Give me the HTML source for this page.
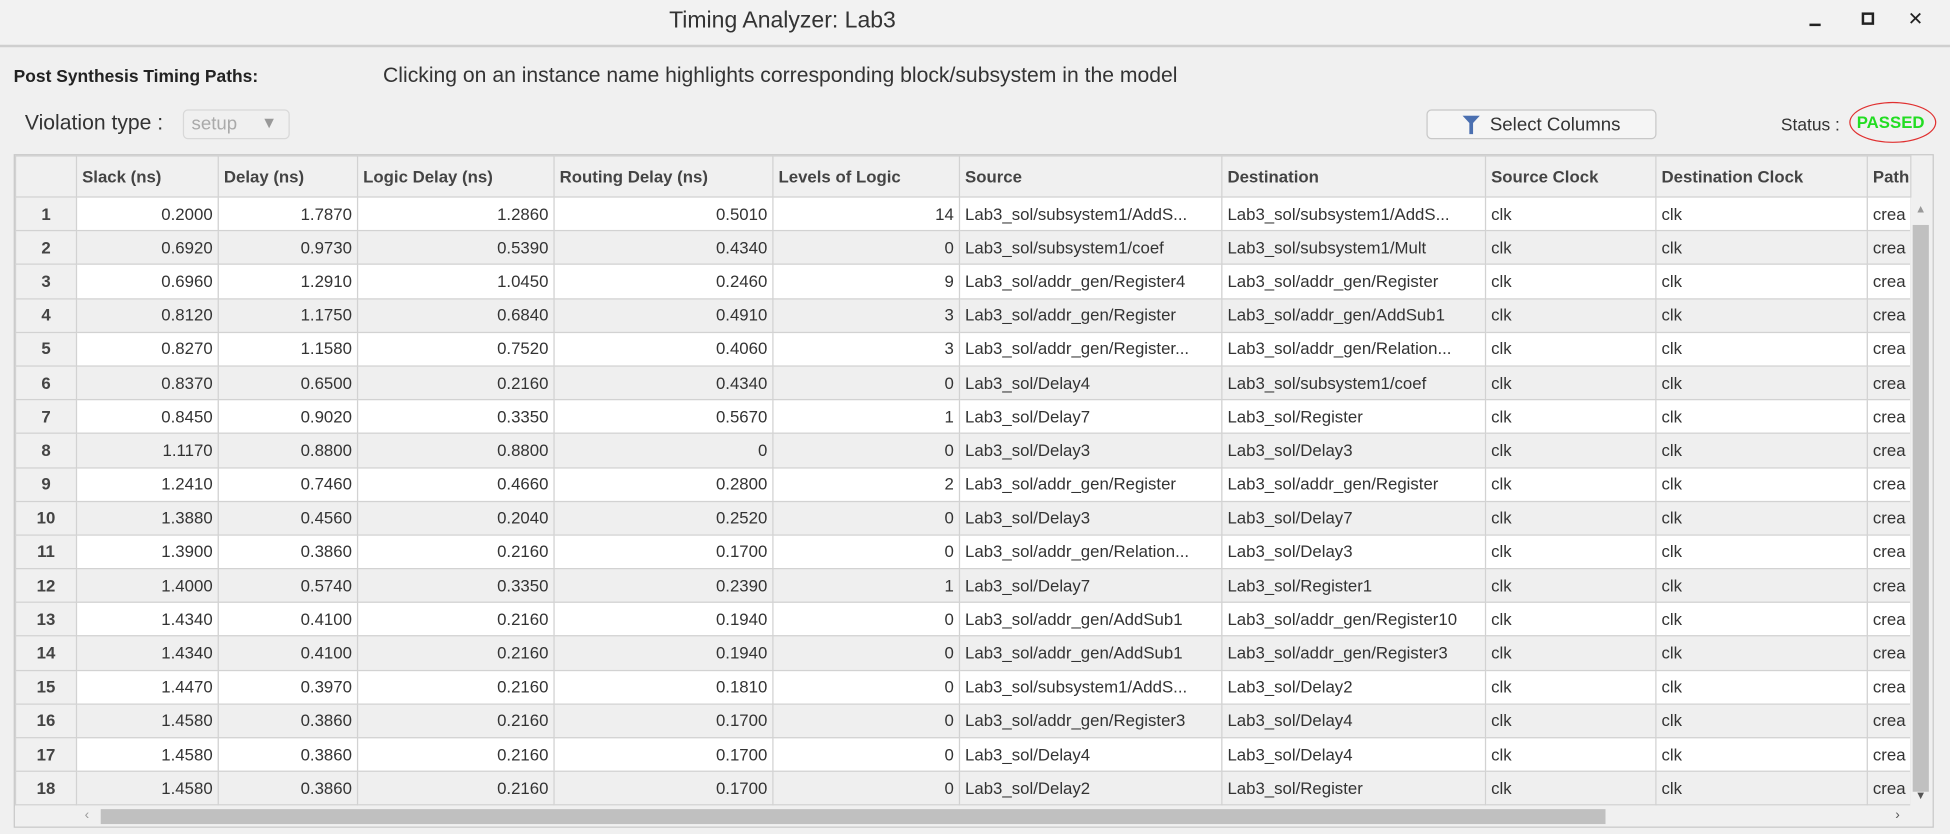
<!DOCTYPE html>
<html><head><meta charset="utf-8">
<style>
html,body{margin:0;padding:0;width:1950px;height:834px;overflow:hidden;background:#f0f0f0;}
#win{position:absolute;left:0;top:0;width:1568px;height:671px;transform-origin:0 0;transform:scale(1.24362,1.24292);background:#f0f0f0;font-family:"Liberation Sans",sans-serif;color:#333;}
.abs{position:absolute;white-space:nowrap;}
#titlebar{left:0;top:0;width:1568px;height:36px;background:#f2f2f2;border-bottom:2px solid #cfcfcf;}
table{border-collapse:collapse;table-layout:fixed;font-size:13.5px;}
td,th{border:1px solid #d2d2d2;height:26.2px;padding:0 4px;overflow:hidden;white-space:nowrap;}
th{background:#f0f0f0;text-align:left;font-weight:bold;color:#444;height:32px;}
td.n{text-align:right;}
td.idx{background:#f0f0f0;text-align:center;font-weight:bold;color:#444;}
tr.odd td{background:#fff;} tr.even td{background:#efefef;} tr td.idx{background:#f0f0f0;}
</style></head><body>
<div id="win">
  <div id="titlebar" class="abs">
    <div class="abs" style="left:538px;top:5px;font-size:18.5px;color:#333">Timing Analyzer: Lab3</div>
    <div class="abs" style="left:1455px;top:19px;width:9px;height:2px;background:#222"></div>
    <div class="abs" style="left:1497px;top:10px;width:6px;height:6px;border:2px solid #222"></div>
    <div class="abs" style="left:1534px;top:6px;font-size:15px;color:#222">✕</div>
  </div>
  <div class="abs" style="left:11px;top:53px;font-size:14px;font-weight:bold;color:#222">Post Synthesis Timing Paths:</div>
  <div class="abs" style="left:308px;top:51px;font-size:17px;color:#333">Clicking on an instance name highlights corresponding block/subsystem in the model</div>
  <div class="abs" style="left:20px;top:89px;font-size:17px;color:#333">Violation type :</div>
  <div class="abs" style="left:147px;top:88px;width:84px;height:22px;border:1px solid #d8d8d8;border-radius:4px;background:#f0f0f0">
    <span class="abs" style="left:6px;top:2px;font-size:15px;color:#aaa">setup</span>
    <span class="abs" style="left:62px;top:2px;font-size:13px;color:#999">▼</span>
  </div>
  <div class="abs" style="left:1147px;top:88px;width:183px;height:22px;border:1px solid #c8c8c8;border-radius:4px;background:#f5f5f5">
    <svg class="abs" style="left:28px;top:4px" width="14" height="15"><path d="M0 0H14L8.5 6V15H5.5V6Z" fill="#4a6fb0"/></svg>
    <span class="abs" style="left:50px;top:3px;font-size:15px;color:#333">Select Columns</span>
  </div>
  <div class="abs" style="left:1432px;top:92px;font-size:14px;color:#333">Status :</div>
  <div class="abs" style="left:1487px;top:82px;width:70px;height:33px;border:1.5px solid #e03030;border-radius:50%;box-sizing:border-box">
    <span class="abs" style="left:5px;top:8px;font-size:13.5px;font-weight:bold;color:#22dd22">PASSED</span>
  </div>
  <div class="abs" style="left:11px;top:124px;width:1542px;height:540px;border:1px solid #c8c8c8;background:#f0f0f0;overflow:hidden">
    <table id="tbl" style="width:1524px">
      <colgroup><col style="width:49px"><col style="width:114px"><col style="width:112px"><col style="width:158px"><col style="width:176px"><col style="width:150px"><col style="width:211px"><col style="width:212px"><col style="width:137px"><col style="width:170px"><col style="width:35px"></colgroup>
      <thead><tr id="hdr"></tr></thead><tbody id="body"></tbody>
    </table>
    <div class="abs" style="left:1524px;top:34px;width:17px;height:490px;background:#f0f0f0">
      <span class="abs" style="left:4px;top:4px;font-size:9px;color:#999">▲</span>
      <div class="abs" style="left:2px;top:22px;width:13px;height:456px;background:#c0c0c0"></div>
      <span class="abs" style="left:4px;top:476px;font-size:9px;color:#555">▼</span>
    </div>
    <div class="abs" style="left:0;top:524px;width:1524px;height:16px;background:#f0f0f0">
      <span class="abs" style="left:56px;top:1px;font-size:11px;color:#999">‹</span>
      <div class="abs" style="left:69px;top:2px;width:1210px;height:12px;background:#c0c0c0"></div>
      <span class="abs" style="left:1512px;top:1px;font-size:11px;color:#555">›</span>
    </div>
  </div>
</div>
<script>
const headers=["","Slack (ns)","Delay (ns)","Logic Delay (ns)","Routing Delay (ns)","Levels of Logic","Source","Destination","Source Clock","Destination Clock","Path"];
const slack=["0.2000","0.6920","0.6960","0.8120","0.8270","0.8370","0.8450","1.1170","1.2410","1.3880","1.3900","1.4000","1.4340","1.4340","1.4470","1.4580","1.4580","1.4580"];
const delay=["1.7870","0.9730","1.2910","1.1750","1.1580","0.6500","0.9020","0.8800","0.7460","0.4560","0.3860","0.5740","0.4100","0.4100","0.3970","0.3860","0.3860","0.3860"];
const logicDelay=["1.2860","0.5390","1.0450","0.6840","0.7520","0.2160","0.3350","0.8800","0.4660","0.2040","0.2160","0.3350","0.2160","0.2160","0.2160","0.2160","0.2160","0.2160"];
const routingDelay=["0.5010","0.4340","0.2460","0.4910","0.4060","0.4340","0.5670","0","0.2800","0.2520","0.1700","0.2390","0.1940","0.1940","0.1810","0.1700","0.1700","0.1700"];
const levels=["14","0","9","3","3","0","1","0","2","0","0","1","0","0","0","0","0","0"];
const sources=["Lab3_sol/subsystem1/AddS...","Lab3_sol/subsystem1/coef","Lab3_sol/addr_gen/Register4","Lab3_sol/addr_gen/Register","Lab3_sol/addr_gen/Register...","Lab3_sol/Delay4","Lab3_sol/Delay7","Lab3_sol/Delay3","Lab3_sol/addr_gen/Register","Lab3_sol/Delay3","Lab3_sol/addr_gen/Relation...","Lab3_sol/Delay7","Lab3_sol/addr_gen/AddSub1","Lab3_sol/addr_gen/AddSub1","Lab3_sol/subsystem1/AddS...","Lab3_sol/addr_gen/Register3","Lab3_sol/Delay4","Lab3_sol/Delay2"];
const dests=["Lab3_sol/subsystem1/AddS...","Lab3_sol/subsystem1/Mult","Lab3_sol/addr_gen/Register","Lab3_sol/addr_gen/AddSub1","Lab3_sol/addr_gen/Relation...","Lab3_sol/subsystem1/coef","Lab3_sol/Register","Lab3_sol/Delay3","Lab3_sol/addr_gen/Register","Lab3_sol/Delay7","Lab3_sol/Delay3","Lab3_sol/Register1","Lab3_sol/addr_gen/Register10","Lab3_sol/addr_gen/Register3","Lab3_sol/Delay2","Lab3_sol/Delay4","Lab3_sol/Delay4","Lab3_sol/Register"];
const hdr=document.getElementById('hdr');
headers.forEach(h=>{const th=document.createElement('th');th.textContent=h;


hdr.appendChild(th);});
const body=document.getElementById('body');
slack.forEach((s,i)=>{
  const tr=document.createElement('tr');tr.className=i%2?'even':'odd';
  
  
  const vals=[[String(i+1),'idx'],[s,'n'],[delay[i],'n'],[logicDelay[i],'n'],[routingDelay[i],'n'],[levels[i],'n'],[sources[i],''],[dests[i],''],['clk',''],['clk',''],['crea','']];
  vals.forEach(v=>{const td=document.createElement('td');td.textContent=v[0];if(v[1])td.className=v[1];
    
    
    tr.appendChild(td);});
  body.appendChild(tr);
});
</script>
</body></html>
